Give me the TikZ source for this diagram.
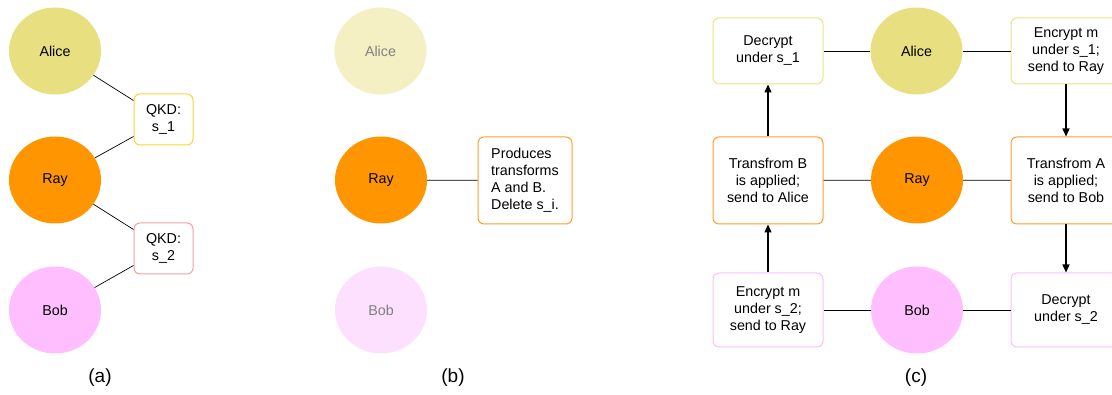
\documentclass[tikz,border=0pt]{standalone}
\usepackage{fontspec}
\setmainfont{Liberation Sans}
\usetikzlibrary{shapes.geometric,arrows.meta}
\definecolor{aliceC}{HTML}{E8DF80}
\definecolor{rayC}{HTML}{FF9500}
\definecolor{bobC}{HTML}{FFBFFF}
\definecolor{aliceF}{HTML}{F5F0C4}
\definecolor{bobF}{HTML}{FDE0FD}
\definecolor{fadeT}{HTML}{808080}
\definecolor{goldS}{HTML}{FDD33A}
\definecolor{redS}{HTML}{F7A0A0}
\definecolor{yelS}{HTML}{EFE285}
\definecolor{oraS}{HTML}{FF9D2A}
\definecolor{pinS}{HTML}{FFBDFF}
\tikzset{
  party/.style={ellipse, inner sep=0pt, minimum width=92pt, minimum height=87pt, font=\fontsize{14.3}{17}\selectfont},
  box/.style={draw, rounded corners=6pt, fill=white, line width=1pt, align=center, inner sep=2pt, font=\fontsize{14.3}{17}\selectfont},
  cbox/.style={box, minimum width=110pt},
  link/.style={draw=black, line width=0.7pt},
  flow/.style={draw=black, line width=1.4pt, -{Triangle[length=8pt,width=7pt]}},
  captxt/.style={font=\fontsize{19}{22}\selectfont}
}
\begin{document}
\begin{tikzpicture}[x=1pt,y=-1pt]
\useasboundingbox (0,0) rectangle (1112,395);
\clip (0,0) rectangle (1112,395);
% panel (a)
\node[party, fill=aliceC] (a1) at (55,51) {Alice};
\node[party, fill=rayC] (r1) at (55,180) {Ray};
\node[party, fill=bobC] (b1) at (55,310) {Bob};
\node[box, draw=goldS, minimum width=59pt, minimum height=51pt] (q1) at (163.5,119.5) {QKD:\\s\_1};
\node[box, draw=redS, minimum width=59pt, minimum height=51pt] (q2) at (163.5,248.5) {QKD:\\s\_2};
\draw[link] (a1) -- ([yshift=19pt]q1.west);
\draw[link] ([yshift=-17pt]q1.west) -- (r1);
\draw[link] (r1) -- ([yshift=19pt]q2.west);
\draw[link] ([yshift=-17pt]q2.west) -- (b1);
\node[captxt] (ca) at (100,378) {(a)};
% panel (b)
\node[party, fill=aliceF, text=fadeT] (a2) at (380.5,51) {Alice};
\node[party, fill=rayC] (r2) at (381,180) {Ray};
\node[party, fill=bobF, text=fadeT] (b2) at (381,310) {Bob};
\node[box, draw=oraS, align=left, minimum width=94pt, minimum height=87pt] (pt) at (525,180.5) {Produces\\transforms\\A and B.\\Delete s\_i.};
\draw[link] (r2) -- (pt);
\node[captxt] (cb) at (453,378) {(b)};
% panel (c)
\node[party, fill=aliceC] (a3) at (916.5,51) {Alice};
\node[party, fill=rayC] (r3) at (917,180) {Ray};
\node[party, fill=bobC] (b3) at (917,310) {Bob};
\node[cbox, draw=yelS, minimum height=66pt] (dl) at (768,51) {Decrypt\\under s\_1};
\node[cbox, draw=oraS, minimum height=87pt] (tb) at (768,180.5) {Transfrom B\\is applied;\\send to Alice};
\node[cbox, draw=pinS, minimum height=74pt] (el) at (768,310) {Encrypt m\\under s\_2;\\send to Ray};
\node[cbox, draw=yelS, minimum height=66pt] (er) at (1066,51) {Encrypt m\\under s\_1;\\send to Ray};
\node[cbox, draw=oraS, minimum height=87pt] (ta) at (1066,180.5) {Transfrom A\\is applied;\\send to Bob};
\node[cbox, draw=pinS, minimum height=74pt] (dr) at (1066,310) {Decrypt\\under s\_2};
\draw[link] (dl) -- (a3);
\draw[link] (a3) -- (er);
\draw[link] (tb) -- (r3);
\draw[link] (r3) -- (ta);
\draw[link] (el) -- (b3);
\draw[link] (b3) -- (dr);
\draw[flow] (tb.north) -- (dl.south);
\draw[flow] (el.north) -- (tb.south);
\draw[flow] (er.south) -- (ta.north);
\draw[flow] (ta.south) -- (dr.north);
\node[captxt] (cc) at (916,378) {(c)};
\end{tikzpicture}
\end{document}
